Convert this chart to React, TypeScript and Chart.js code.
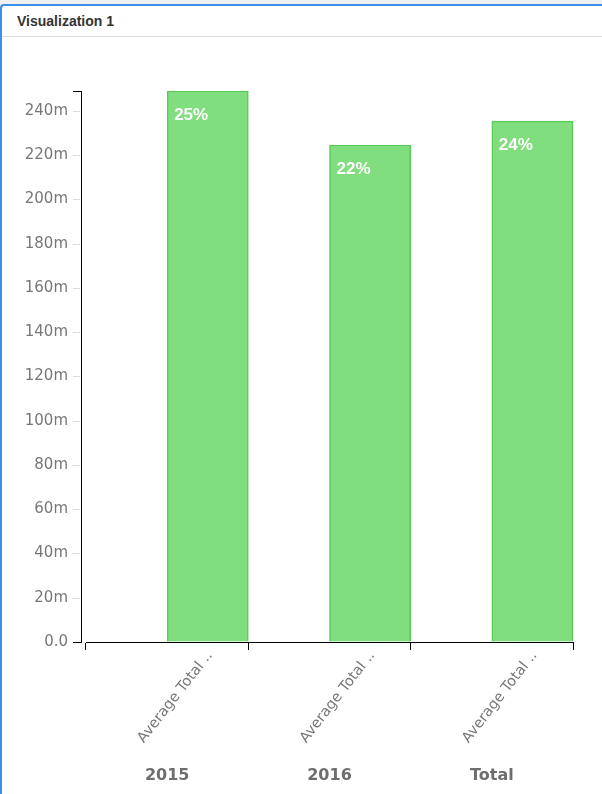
import React, { useEffect, useRef } from 'react';
import { Chart, registerables } from 'chart.js';

Chart.register(...registerables);

const categories = ['2015', '2016', 'Total'];
const measureLabels = ['Average Total ..', 'Average Total ..', 'Average Total ..'];
const values = [249, 224.6, 235.4];
const percentLabels = ['25%', '22%', '24%'];
const yTickValues = [0, 20, 40, 60, 80, 100, 120, 140, 160, 180, 200, 220, 240];
const yTickLabels = ['0.0', '20m', '40m', '60m', '80m', '100m', '120m', '140m', '160m', '180m', '200m', '220m', '240m'];

const FONT = '"DejaVu Sans", Verdana, sans-serif';
const BAR_FILL = '#80de7f';
const BAR_BORDER = '#56cc56';

export default function App() {
  const ref = useRef<HTMLCanvasElement | null>(null);

  useEffect(() => {
    if (!ref.current) return;
    const yMax = Math.max(...values);

    const decorations = {
      id: 'decorations',
      afterDatasetsDraw(chart: any) {
        const { ctx, chartArea, scales } = chart;
        const y = scales.y;
        const x = scales.x;
        ctx.save();
        // y axis decoration
        const axisX = Math.round(chartArea.left - 5) + 0.5;
        ctx.lineWidth = 1;
        yTickValues.forEach((v) => {
          const py = Math.round(y.getPixelForValue(v)) + 0.5;
          ctx.beginPath();
          if (v === 0) {
            ctx.strokeStyle = '#000';
            ctx.moveTo(chartArea.left - 13, py);
            ctx.lineTo(axisX + 0.5, py);
          } else {
            ctx.strokeStyle = '#dddddd';
            ctx.moveTo(chartArea.left - 13, py);
            ctx.lineTo(chartArea.left - 6, py);
          }
          ctx.stroke();
        });
        const topY = Math.round(y.getPixelForValue(yMax)) + 0.5;
        const botY = Math.round(y.getPixelForValue(0)) + 0.5;
        ctx.strokeStyle = '#000';
        ctx.beginPath();
        ctx.moveTo(chartArea.left - 13, topY);
        ctx.lineTo(axisX + 0.5, topY);
        ctx.stroke();
        ctx.beginPath();
        ctx.moveTo(axisX, topY);
        ctx.lineTo(axisX, botY);
        ctx.stroke();

        // percent labels in bars
        const meta = chart.getDatasetMeta(1);
        ctx.fillStyle = '#ffffff';
        ctx.font = 'bold 17px "Liberation Sans", Arial, sans-serif';
        ctx.textAlign = 'left';
        ctx.textBaseline = 'middle';
        meta.data.forEach((bar: any, i: number) => {
          const left = bar.x - bar.width / 2;
          ctx.fillText(percentLabels[i], left + 7, bar.y + 24);
        });

        // rotated measure labels
        ctx.fillStyle = '#777777';
        ctx.font = '14.5px ' + FONT;
        ctx.textAlign = 'right';
        ctx.textBaseline = 'middle';
        meta.data.forEach((bar: any, i: number) => {
          ctx.save();
          ctx.translate(bar.x + 2, chartArea.bottom + 11);
          ctx.rotate((-52 * Math.PI) / 180);
          ctx.fillText(measureLabels[i], 0, 0);
          ctx.restore();
        });

        // group labels
        ctx.fillStyle = '#6e6e6e';
        ctx.font = 'bold 16px ' + FONT;
        ctx.textAlign = 'center';
        ctx.textBaseline = 'middle';
        categories.forEach((c, i) => {
          ctx.fillText(c, x.getPixelForValue(i), chartArea.bottom + 134);
        });
        ctx.restore();
      },
    };

    const chart = new Chart(ref.current, {
      type: 'bar',
      data: {
        labels: categories,
        datasets: [
          {
            label: '',
            data: categories.map(() => null) as any,
            backgroundColor: 'transparent',
          },
          {
            label: 'Average Total',
            data: values,
            backgroundColor: BAR_FILL,
            borderColor: BAR_BORDER,
            borderWidth: 1.5,
          },
        ],
      },
      options: {
        responsive: false,
        animation: false,
        datasets: { bar: { categoryPercentage: 1, barPercentage: 1 } },
        layout: { padding: { left: 0, right: 29, top: 51, bottom: 0 } },
        plugins: { legend: { display: false }, tooltip: { enabled: false }, title: { display: false } },
        scales: {
          x: {
            offset: true,
            grid: {
              display: true,
              drawOnChartArea: false,
              drawTicks: true,
              tickLength: 8,
              color: '#000',
              offset: true,
            },
            border: { display: true, color: '#000', width: 1 },
            ticks: { display: false },
            afterFit: (scale: any) => {
              scale.height = 152;
            },
          },
          y: {
            min: 0,
            max: yMax,
            grid: {
              display: true,
              drawOnChartArea: false,
              drawTicks: true,
              tickLength: 13,
              color: 'rgba(0,0,0,0)',
            },
            border: { display: false },
            ticks: {
              padding: 5,
              color: '#777777',
              font: { family: FONT, size: 15 },
              autoSkip: false,
              callback: (value: any) => {
                const idx = yTickValues.indexOf(Number(value));
                return idx >= 0 ? yTickLabels[idx] : '';
              },
            },
            afterBuildTicks: (scale: any) => {
              scale.ticks = yTickValues.map((v) => ({ value: v }));
            },
            afterFit: (scale: any) => {
              scale.width = 86;
            },
          },
        },
      },
      plugins: [decorations],
    });
    return () => chart.destroy();
  }, []);

  return (
    <div style={{ position: 'fixed', left: 0, top: 0, width: 602, height: 794, background: '#f0f0f0', overflow: 'hidden' }}>
      <div
        style={{
          position: 'absolute',
          left: 0,
          top: 4,
          width: 640,
          height: 820,
          background: '#ffffff',
          borderTop: '2px solid #3b8fe6',
          borderLeft: '2px solid #3b8fe6',
          borderTopLeftRadius: 4,
          boxSizing: 'border-box',
        }}
      >
        <div
          style={{
            height: 30,
            lineHeight: '30px',
            paddingLeft: 15,
            borderBottom: '1px solid #dddddd',
            fontFamily: '"Liberation Sans", Arial, sans-serif',
            fontWeight: 'bold',
            fontSize: 14,
            color: '#333333',
          }}
        >
          Visualization 1
        </div>
      </div>
      <canvas
        ref={ref}
        width={602}
        height={754}
        style={{ position: 'absolute', left: 0, top: 40, width: 602, height: 754 }}
      />
    </div>
  );
}
